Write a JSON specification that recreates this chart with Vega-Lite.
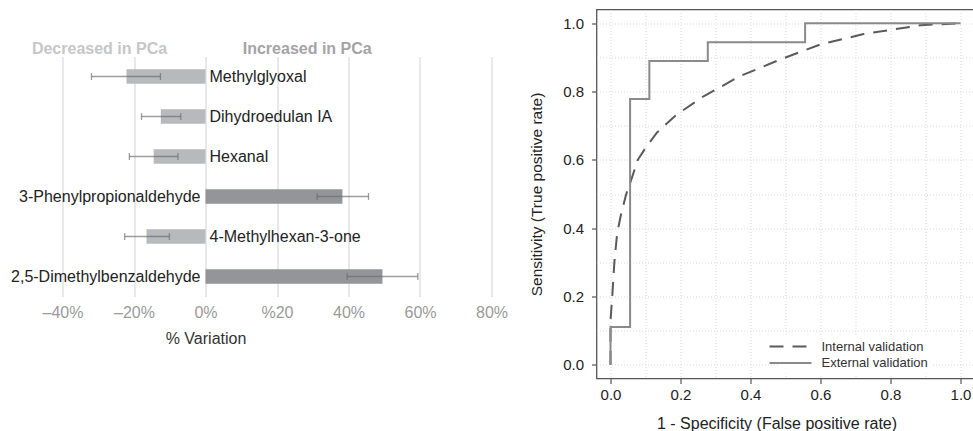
{
  "$schema": "https://vega.github.io/schema/vega-lite/v6.json",
  "padding": {"left": 10.5, "top": 8.5, "right": 0, "bottom": 0},
  "config": {"font": "Liberation Sans", "view": {"stroke": null}},
  "bounds": "flush",
  "spacing": 534,
  "resolve": {
    "scale": {"color": "independent", "strokeDash": "independent"},
    "legend": {"color": "independent", "strokeDash": "independent"}
  },
  "datasets": {
    "headers": [
      {"side": "Decreased in PCa", "pos": -0.2965},
      {"side": "Increased in PCa", "pos": 0.2845}
    ],
    "variation": [
      {"compound": "Methylglyoxal", "value": -0.221, "lo": -0.319, "hi": -0.126},
      {"compound": "Dihydroedulan IA", "value": -0.125, "lo": -0.179, "hi": -0.069},
      {"compound": "Hexanal", "value": -0.145, "lo": -0.213, "hi": -0.077},
      {"compound": "3-Phenylpropionaldehyde", "value": 0.383, "lo": 0.312, "hi": 0.456},
      {"compound": "4-Methylhexan-3-one", "value": -0.165, "lo": -0.226, "hi": -0.101},
      {"compound": "2,5-Dimethylbenzaldehyde", "value": 0.495, "lo": 0.396, "hi": 0.594}
    ],
    "roc": [
      {"curve": "Internal validation", "fpr": 0.0, "tpr": 0.0},
      {"curve": "Internal validation", "fpr": 0.0, "tpr": 0.13},
      {"curve": "Internal validation", "fpr": 0.005, "tpr": 0.2},
      {"curve": "Internal validation", "fpr": 0.011, "tpr": 0.3},
      {"curve": "Internal validation", "fpr": 0.019, "tpr": 0.385},
      {"curve": "Internal validation", "fpr": 0.03, "tpr": 0.44},
      {"curve": "Internal validation", "fpr": 0.045, "tpr": 0.5},
      {"curve": "Internal validation", "fpr": 0.062, "tpr": 0.55},
      {"curve": "Internal validation", "fpr": 0.078, "tpr": 0.6},
      {"curve": "Internal validation", "fpr": 0.1, "tpr": 0.635},
      {"curve": "Internal validation", "fpr": 0.133, "tpr": 0.68},
      {"curve": "Internal validation", "fpr": 0.186, "tpr": 0.73},
      {"curve": "Internal validation", "fpr": 0.266, "tpr": 0.786},
      {"curve": "Internal validation", "fpr": 0.37, "tpr": 0.845},
      {"curve": "Internal validation", "fpr": 0.486, "tpr": 0.894},
      {"curve": "Internal validation", "fpr": 0.6, "tpr": 0.938},
      {"curve": "Internal validation", "fpr": 0.723, "tpr": 0.968},
      {"curve": "Internal validation", "fpr": 0.886, "tpr": 0.994},
      {"curve": "Internal validation", "fpr": 1.0, "tpr": 1.0},
      {"curve": "External validation", "fpr": 0.0, "tpr": 0.0},
      {"curve": "External validation", "fpr": 0.0, "tpr": 0.111},
      {"curve": "External validation", "fpr": 0.056, "tpr": 0.111},
      {"curve": "External validation", "fpr": 0.056, "tpr": 0.778},
      {"curve": "External validation", "fpr": 0.111, "tpr": 0.778},
      {"curve": "External validation", "fpr": 0.111, "tpr": 0.889},
      {"curve": "External validation", "fpr": 0.278, "tpr": 0.889},
      {"curve": "External validation", "fpr": 0.278, "tpr": 0.944},
      {"curve": "External validation", "fpr": 0.556, "tpr": 0.944},
      {"curve": "External validation", "fpr": 0.556, "tpr": 1.0},
      {"curve": "External validation", "fpr": 1.0, "tpr": 1.0}
    ]
  },
  "hconcat": [
    {
      "vconcat": [
        {
          "width": 429,
          "height": 47,
          "data": {"name": "headers"},
          "mark": {"type": "text", "fontSize": 16, "fontWeight": "bold", "dy": 15.8},
          "encoding": {
            "x": {"field": "pos", "type": "quantitative", "scale": {"domain": [-0.4, 0.8], "nice": false, "zero": false}, "axis": null},
            "text": {"field": "side"},
            "color": {"condition": {"test": "datum.pos < 0", "value": "#c6c6c8"}, "value": "#a4a4a6"}
          }
        },
        {
          "width": 429,
          "height": 240,
          "data": {"name": "variation"},
          "encoding": {
            "y": {"field": "compound", "type": "nominal", "sort": null, "axis": null,
                  "scale": {"paddingInner": 0.6375, "paddingOuter": 0.31875}}
          },
          "layer": [
            {
              "mark": {"type": "bar"},
              "encoding": {
                "x": {"field": "value", "type": "quantitative", "title": "% Variation",
                      "scale": {"domain": [-0.4, 0.8], "nice": false, "zero": false},
                      "axis": {
                        "values": [-0.4, -0.2, 0, 0.2, 0.4, 0.6, 0.8],
                        "labelExpr": "(datum.value > 0.19 && datum.value < 0.21) ? '%20' : ((datum.value < 0 ? '–' : '') + format(abs(datum.value) * 100, '.0f') + '%')",
                        "domain": false, "ticks": false, "tickSize": 0,
                        "grid": true, "gridColor": "#dcdcdc", "gridWidth": 1.3,
                        "labelColor": "#9a9a9a", "labelFontSize": 16, "labelPadding": 8,
                        "labelFlush": false, "labelOverlap": false,
                        "titleFontSize": 16, "titleFontWeight": "normal", "titleColor": "#333333",
                        "titlePadding": 10, "titleX": 143
                      }},
                "x2": {"datum": 0},
                "color": {"condition": {"test": "datum.value < 0", "value": "#b8b9bc"}, "value": "#939598"}
              }
            },
            {
              "mark": {"type": "errorbar", "ticks": true, "size": 7, "thickness": 1.3, "color": "#6a6a6a", "opacity": 0.65},
              "encoding": {
                "x": {"field": "lo", "type": "quantitative", "title": "% Variation"},
                "x2": {"field": "hi"}
              }
            },
            {
              "transform": [{"filter": "datum.value < 0"}],
              "mark": {"type": "text", "align": "left", "dx": 4, "fontSize": 16, "color": "#222222"},
              "encoding": {
                "x": {"datum": 0, "type": "quantitative", "title": "% Variation"},
                "text": {"field": "compound"}
              }
            },
            {
              "transform": [{"filter": "datum.value > 0"}],
              "mark": {"type": "text", "align": "right", "dx": -5, "fontSize": 16, "color": "#222222"},
              "encoding": {
                "x": {"datum": 0, "type": "quantitative", "title": "% Variation"},
                "text": {"field": "compound"}
              }
            }
          ]
        }
      ],
      "spacing": 0,
      "bounds": "flush"
    },
    {
      "width": 378,
      "height": 369,
      "view": {"stroke": "#555555", "strokeWidth": 1.3},
      "data": {"name": "roc"},
      "mark": {"type": "line", "strokeWidth": 2},
      "encoding": {
        "x": {"field": "fpr", "type": "quantitative",
              "scale": {"domain": [-0.04, 1.04], "nice": false, "zero": false},
              "axis": {
                "title": "1 - Specificity (False positive rate)",
                "values": [0, 0.1, 0.2, 0.3, 0.4, 0.5, 0.6, 0.7, 0.8, 0.9, 1],
                "format": ".1f",
                "labelExpr": "round(datum.value * 10) % 2 == 0 ? datum.label : ''",
                "tickOpacity": {"condition": {"test": "round(datum.value * 10) % 2 == 1", "value": 0}, "value": 1},
                "domain": false, "grid": true, "gridDash": [1, 2], "gridColor": "#d9d9d9",
                "tickColor": "#555555", "tickSize": 5, "tickWidth": 1.2,
                "labelFontSize": 15, "labelColor": "#222222", "labelPadding": 4,
                "labelFlush": false, "labelOverlap": false,
                "titleFontSize": 16, "titleFontWeight": "normal", "titleColor": "#222222",
                "titlePadding": 13, "titleX": 180
              }},
        "y": {"field": "tpr", "type": "quantitative",
              "scale": {"domain": [-0.04, 1.04], "nice": false, "zero": false},
              "axis": {
                "title": "Sensitivity (True positive rate)",
                "values": [0, 0.1, 0.2, 0.3, 0.4, 0.5, 0.6, 0.7, 0.8, 0.9, 1],
                "format": ".1f",
                "labelExpr": "round(datum.value * 10) % 2 == 0 ? datum.label : ''",
                "tickOpacity": {"condition": {"test": "round(datum.value * 10) % 2 == 1", "value": 0}, "value": 1},
                "domain": false, "grid": true, "gridDash": [1, 2], "gridColor": "#d9d9d9",
                "tickColor": "#555555", "tickSize": 5, "tickWidth": 1.2,
                "labelFontSize": 15, "labelColor": "#222222", "labelPadding": 8,
                "labelFlush": false, "labelOverlap": false,
                "titleFontSize": 15.5, "titleFontWeight": "normal", "titleColor": "#222222",
                "titlePadding": 18
              }},
        "strokeDash": {"field": "curve", "type": "nominal",
                       "scale": {"domain": ["Internal validation", "External validation"], "range": [[14, 9], [1, 0]]},
                       "legend": {"title": null, "orient": "none", "legendX": 183, "legendY": 326,
                                  "symbolType": "M-3,0H3", "symbolSize": 196, "symbolStrokeWidth": 2,
                                  "labelFontSize": 13, "labelColor": "#333333", "labelOffset": 23,
                                  "rowPadding": 1.6, "fillColor": "white", "padding": 3}},
        "color": {"field": "curve", "type": "nominal",
                  "scale": {"domain": ["Internal validation", "External validation"], "range": ["#5a5a5a", "#8a8a8a"]},
                  "legend": {"title": null, "orient": "none", "legendX": 183, "legendY": 326,
                             "symbolType": "M-3,0H3", "symbolSize": 196, "symbolStrokeWidth": 2,
                             "labelFontSize": 13, "labelColor": "#333333", "labelOffset": 23,
                             "rowPadding": 1.6, "fillColor": "white", "padding": 3}}
      }
    }
  ]
}
